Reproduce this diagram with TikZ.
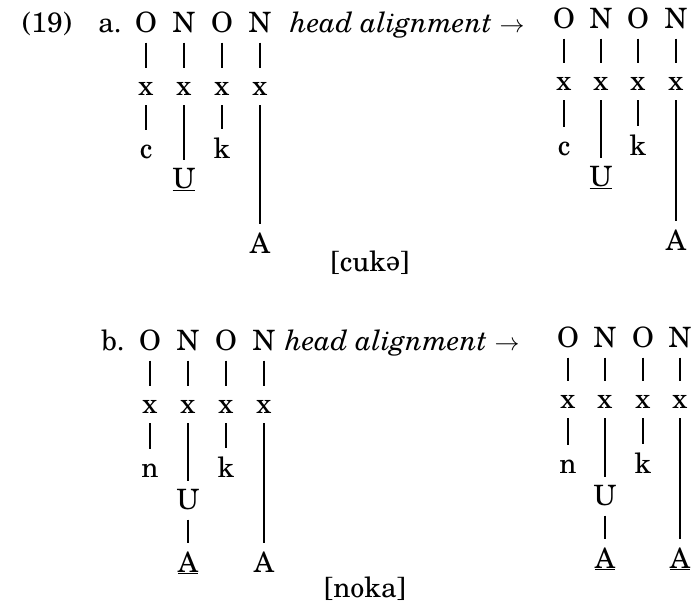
\documentclass[tikz,border=0pt]{standalone}
\usepackage{fontspec}
\setmainfont{texgyreschola-regular.otf}[ItalicFont=texgyreschola-italic.otf, BoldFont=texgyreschola-bold.otf]
\usepackage{graphicx}
\newcommand{\myschwa}{\rotatebox[origin=c]{180}{e}}
\begin{document}
\begin{tikzpicture}[x=1pt,y=-1pt,
  lbl/.style={inner sep=0pt, anchor=base, font=\fontsize{28}{34}\selectfont},
  lblw/.style={lbl, anchor=base west},
  assoc/.style={line width=1.2pt, shorten <=10pt},
  tosmall/.style={shorten >=14pt},
  totall/.style={shorten >=8pt},
]
\useasboundingbox (0,0) rectangle (695,605);

% ---------- (19) a. ----------
\node[lbl] (num) at (47,32) {(19)};
\node[lbl] (alab) at (110,32) {a.};
\node[lblw] (ahead) at (290,32) {\itshape head alignment $\rightarrow$};

% left a
\node[lbl] (aLO1) at (146,32) {O};
\node[lbl] (aLN1) at (184,32) {N};
\node[lbl] (aLO2) at (222,32) {O};
\node[lbl] (aLN2) at (260,32) {N};
\node[lbl] (aLx1) at (146,95) {x};
\node[lbl] (aLx2) at (184,95) {x};
\node[lbl] (aLx3) at (222,95) {x};
\node[lbl] (aLx4) at (260,95) {x};
\node[lbl] (aLc) at (146,158) {c};
\node[lbl] (aLU) at (184,188) {\underline{U}};
\node[lbl] (aLk) at (222,158) {k};
\node[lbl] (aLA) at (260,253) {A};
\draw[assoc,tosmall] (aLO1.south) -- (aLx1.north);
\draw[assoc,tosmall] (aLN1.south) -- (aLx2.north);
\draw[assoc,tosmall] (aLO2.south) -- (aLx3.north);
\draw[assoc,tosmall] (aLN2.south) -- (aLx4.north);
\draw[assoc,tosmall] (aLx1.south) -- (aLc.north);
\draw[assoc,totall] (aLx2.south) -- (aLU.north);
\draw[assoc,totall] (aLx3.south) -- (aLk.north);
\draw[assoc,totall] (aLx4.south) -- (aLA.north);

% right a
\node[lbl] (aRO1) at (564,28) {O};
\node[lbl] (aRN1) at (601,28) {N};
\node[lbl] (aRO2) at (638,28) {O};
\node[lbl] (aRN2) at (676,28) {N};
\node[lbl] (aRx1) at (564,90) {x};
\node[lbl] (aRx2) at (601,90) {x};
\node[lbl] (aRx3) at (638,90) {x};
\node[lbl] (aRx4) at (676,90) {x};
\node[lbl] (aRc) at (564,155) {c};
\node[lbl] (aRU) at (601,186) {\underline{U}};
\node[lbl] (aRk) at (638,155) {k};
\node[lbl] (aRA) at (676,250) {A};
\draw[assoc,tosmall] (aRO1.south) -- (aRx1.north);
\draw[assoc,tosmall] (aRN1.south) -- (aRx2.north);
\draw[assoc,tosmall] (aRO2.south) -- (aRx3.north);
\draw[assoc,tosmall] (aRN2.south) -- (aRx4.north);
\draw[assoc,tosmall] (aRx1.south) -- (aRc.north);
\draw[assoc,totall] (aRx2.south) -- (aRU.north);
\draw[assoc,totall] (aRx3.south) -- (aRk.north);
\draw[assoc,totall] (aRx4.south) -- (aRA.north);

\node[lbl] (cuke) at (370,271) {[cuk\myschwa]};

% ---------- b. ----------
\node[lbl] (blab) at (113,350) {b.};
\node[lblw] (bhead) at (285,350) {\itshape head alignment $\rightarrow$};

% left b
\node[lbl] (bLO1) at (150,350) {O};
\node[lbl] (bLN1) at (188,350) {N};
\node[lbl] (bLO2) at (226,350) {O};
\node[lbl] (bLN2) at (264,350) {N};
\node[lbl] (bLx1) at (150,413) {x};
\node[lbl] (bLx2) at (188,413) {x};
\node[lbl] (bLx3) at (226,413) {x};
\node[lbl] (bLx4) at (264,413) {x};
\node[lbl] (bLn) at (150,477) {n};
\node[lbl] (bLU) at (188,509) {U};
\node[lbl] (bLk) at (226,477) {k};
\node[lbl] (bLA1) at (188,572) {\underline{A}};
\node[lbl] (bLA2) at (264,572) {A};
\draw[assoc,tosmall] (bLO1.south) -- (bLx1.north);
\draw[assoc,tosmall] (bLN1.south) -- (bLx2.north);
\draw[assoc,tosmall] (bLO2.south) -- (bLx3.north);
\draw[assoc,tosmall] (bLN2.south) -- (bLx4.north);
\draw[assoc,tosmall] (bLx1.south) -- (bLn.north);
\draw[assoc,totall] (bLx2.south) -- (bLU.north);
\draw[assoc,totall] (bLx3.south) -- (bLk.north);
\draw[assoc,totall] (bLU.south) -- (bLA1.north);
\draw[assoc,totall] (bLx4.south) -- (bLA2.north);

% right b
\node[lbl] (bRO1) at (568,347) {O};
\node[lbl] (bRN1) at (605,347) {N};
\node[lbl] (bRO2) at (643,347) {O};
\node[lbl] (bRN2) at (680,347) {N};
\node[lbl] (bRx1) at (568,408) {x};
\node[lbl] (bRx2) at (605,408) {x};
\node[lbl] (bRx3) at (643,408) {x};
\node[lbl] (bRx4) at (680,408) {x};
\node[lbl] (bRn) at (568,473) {n};
\node[lbl] (bRU) at (605,505) {U};
\node[lbl] (bRk) at (643,473) {k};
\node[lbl] (bRA1) at (605,568) {\underline{A}};
\node[lbl] (bRA2) at (680,568) {\underline{A}};
\draw[assoc,tosmall] (bRO1.south) -- (bRx1.north);
\draw[assoc,tosmall] (bRN1.south) -- (bRx2.north);
\draw[assoc,tosmall] (bRO2.south) -- (bRx3.north);
\draw[assoc,tosmall] (bRN2.south) -- (bRx4.north);
\draw[assoc,tosmall] (bRx1.south) -- (bRn.north);
\draw[assoc,totall] (bRx2.south) -- (bRU.north);
\draw[assoc,totall] (bRx3.south) -- (bRk.north);
\draw[assoc,totall] (bRU.south) -- (bRA1.north);
\draw[assoc,totall] (bRx4.south) -- (bRA2.north);

\node[lbl] (noka) at (365,597) {[noka]};
\end{tikzpicture}
\end{document}
